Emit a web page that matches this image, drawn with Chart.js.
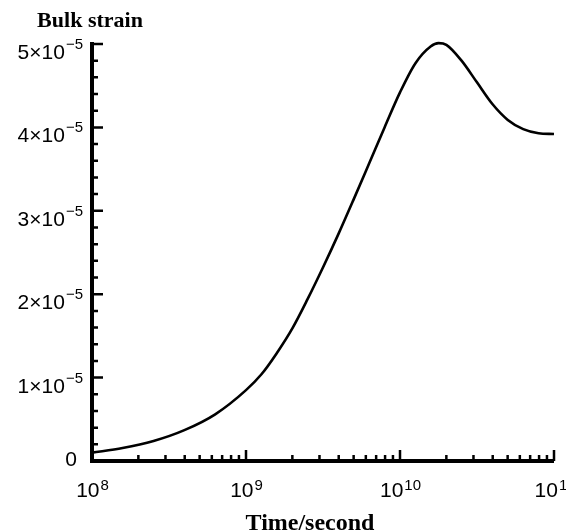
<!DOCTYPE html>
<html>
<head>
<meta charset="utf-8">
<script src="https://cdn.jsdelivr.net/npm/chart.js@4/dist/chart.umd.min.js"></script>
<style>
  html, body { margin: 0; padding: 0; background: #fff; }
  #chart { display: block; }
</style>
</head>
<body>
<canvas id="chart" width="566" height="532"></canvas>
<script>
// time in seconds, strain in units of 1e-5
var timeSeconds = [1.0e8, 1.58e8, 2.51e8, 3.98e8, 6.31e8, 1.0e9, 1.26e9, 1.58e9, 2.0e9, 2.51e9,
                   3.16e9, 3.98e9, 5.01e9, 6.31e9, 7.94e9, 1.0e10, 1.26e10, 1.58e10, 1.78e10, 2.0e10,
                   2.51e10, 3.16e10, 3.98e10, 5.01e10, 6.31e10, 7.94e10, 1.0e11];
var bulkStrain = [0.10, 0.155, 0.24, 0.37, 0.56, 0.85, 1.04, 1.29, 1.59, 1.94,
                  2.32, 2.72, 3.14, 3.57, 4.00, 4.42, 4.77, 4.97, 5.01, 4.99,
                  4.80, 4.54, 4.28, 4.09, 3.98, 3.93, 3.92];

var xTickExponents = [8, 9, 10, 11];
var yTickValues = [0, 1, 2, 3, 4, 5];
var yTickExponent = "\u22125";
var xTitle = "Time/second";
var yTitle = "Bulk strain";

var sansFont = "'Liberation Sans', Arial, sans-serif";
var serifFont = "'Liberation Serif', 'Times New Roman', serif";

var axesPlugin = {
  id: "axesPlugin",
  afterDraw: function (chart) {
    var ctx = chart.ctx;
    var a = chart.chartArea;
    var xs = chart.scales.x;
    var ys = chart.scales.y;
    ctx.save();
    ctx.strokeStyle = "#000";
    ctx.fillStyle = "#000";

    // x ticks (inward)
    ctx.lineWidth = 2.5;
    ctx.beginPath();
    for (var i = 0; i < xTickExponents.length; i++) {
      var e = xTickExponents[i];
      var px = xs.getPixelForValue(Math.pow(10, e));
      ctx.moveTo(px, a.bottom);
      ctx.lineTo(px, a.bottom - 11);
      if (i < xTickExponents.length - 1) {
        for (var m = 2; m <= 9; m++) {
          var mx = xs.getPixelForValue(m * Math.pow(10, e));
          ctx.moveTo(mx, a.bottom);
          ctx.lineTo(mx, a.bottom - 6);
        }
      }
    }
    // y ticks
    for (var j = 0; j < yTickValues.length; j++) {
      var py = ys.getPixelForValue(yTickValues[j]);
      ctx.moveTo(a.left, py);
      ctx.lineTo(a.left + 11, py);
      if (j < yTickValues.length - 1) {
        for (var k = 1; k <= 4; k++) {
          var my = ys.getPixelForValue(yTickValues[j] + k * 0.2);
          ctx.moveTo(a.left, my);
          ctx.lineTo(a.left + 6, my);
        }
      }
    }
    ctx.stroke();

    // axis lines
    ctx.lineWidth = 4;
    ctx.beginPath();
    ctx.moveTo(a.left, a.top - 2);
    ctx.lineTo(a.left, a.bottom);
    ctx.lineTo(a.right, a.bottom);
    ctx.stroke();

    // x tick labels: 10^n
    ctx.textBaseline = "alphabetic";
    ctx.textAlign = "left";
    for (var i2 = 0; i2 < xTickExponents.length; i2++) {
      var px2 = xs.getPixelForValue(Math.pow(10, xTickExponents[i2]));
      ctx.font = "21px " + sansFont;
      var wMain = ctx.measureText("10").width;
      ctx.font = "15px " + sansFont;
      var sup = String(xTickExponents[i2]);
      var wSup = ctx.measureText(sup).width;
      var x0 = px2 - (wMain + wSup) / 2;
      ctx.font = "21px " + sansFont;
      ctx.fillText("10", x0, a.bottom + 36);
      ctx.font = "15px " + sansFont;
      ctx.fillText(sup, x0 + wMain + 1, a.bottom + 29);
    }

    // y tick labels: n×10^-5
    ctx.textAlign = "right";
    for (var j2 = 0; j2 < yTickValues.length; j2++) {
      var v = yTickValues[j2];
      var py2 = ys.getPixelForValue(v);
      if (v === 0) {
        ctx.font = "21px " + sansFont;
        ctx.fillText("0", a.left - 15, py2 + 5);
        continue;
      }
      ctx.font = "15px " + sansFont;
      var ws = ctx.measureText(yTickExponent).width;
      ctx.fillText(yTickExponent, a.left - 9, py2 + 5);
      ctx.font = "21px " + sansFont;
      ctx.fillText(v + "\u00d710", a.left - 9 - ws - 1, py2 + 15);
    }

    // titles
    ctx.textAlign = "center";
    ctx.font = "bold 22px " + serifFont;
    ctx.fillText(yTitle, a.left - 2, 27);
    ctx.font = "bold 24px " + serifFont;
    ctx.fillText(xTitle, (a.left + a.right) / 2 - 13, 530);
    ctx.restore();
  }
};

var points = [];
for (var n = 0; n < timeSeconds.length; n++) {
  points.push({ x: timeSeconds[n], y: bulkStrain[n] });
}

new Chart(document.getElementById("chart"), {
  type: "line",
  data: {
    datasets: [{
      data: points,
      borderColor: "#000",
      borderWidth: 2.6,
      pointRadius: 0,
      fill: false,
      cubicInterpolationMode: "monotone",
      clip: false
    }]
  },
  options: {
    responsive: false,
    animation: false,
    devicePixelRatio: 1,
    layout: { padding: { left: 92, right: 12, top: 44, bottom: 71 } },
    plugins: { legend: { display: false }, tooltip: { enabled: false } },
    scales: {
      x: { type: "logarithmic", min: 1e8, max: 1e11, display: false },
      y: { type: "linear", min: 0, max: 5, display: false }
    }
  },
  plugins: [axesPlugin]
});
</script>
</body>
</html>
